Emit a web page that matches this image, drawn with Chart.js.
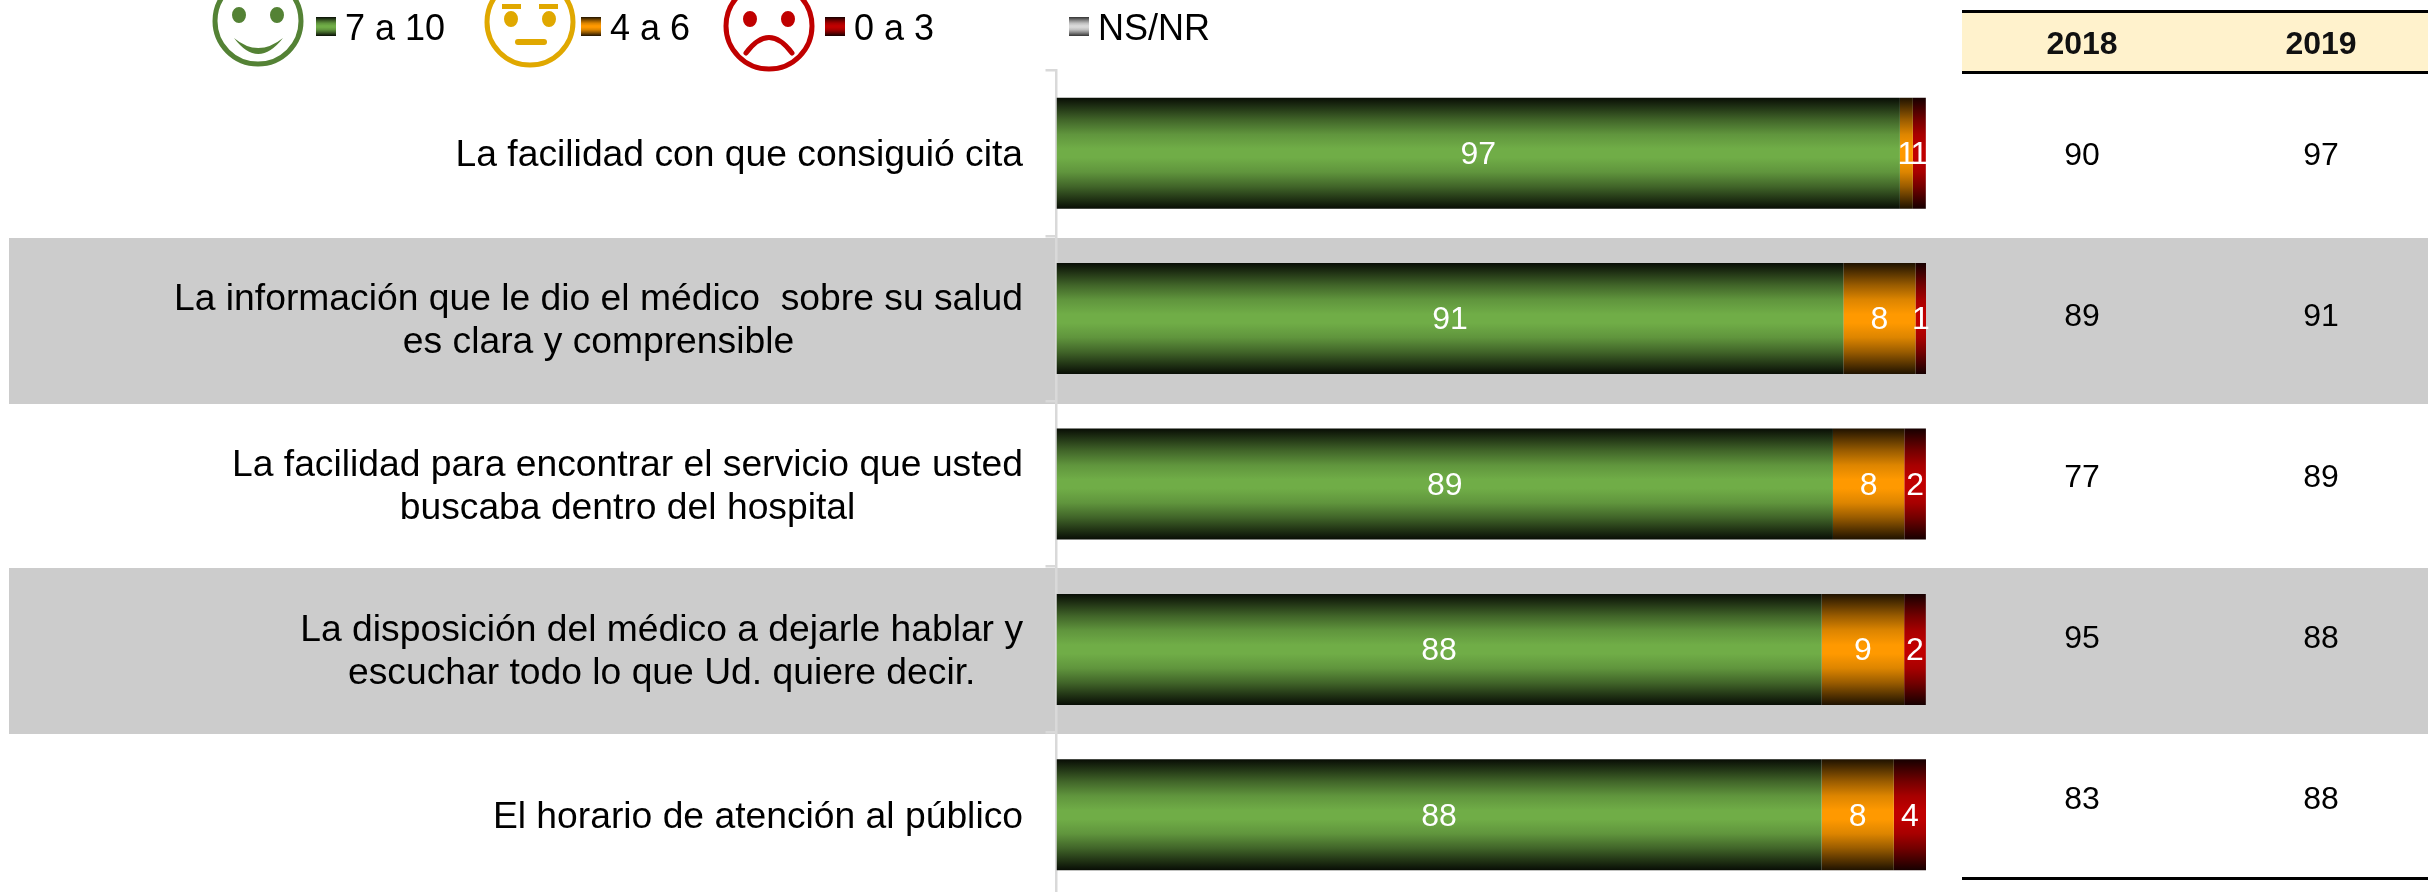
<!DOCTYPE html>
<html>
<head>
<meta charset="utf-8">
<script src="https://cdn.jsdelivr.net/npm/chart.js@4"></script>
<style>
  html, body { margin: 0; padding: 0; background: #fff; overflow: hidden; }
  #wrap { width: 2428px; height: 900px; }
</style>
</head>
<body>
<div id="wrap"><canvas id="chart"></canvas></div>
<script>
const categories = [
  ["La facilidad con que consiguió cita"],
  ["La información que le dio el médico  sobre su salud", "es clara y comprensible"],
  ["La facilidad para encontrar el servicio que usted", "buscaba dentro del hospital"],
  ["La disposición del médico a dejarle hablar y", "escuchar todo lo que Ud. quiere decir."],
  ["El horario de atención al público"],
];
const high = [97.0, 90.5, 89.3, 88.0, 88.0];
const mid = [1.49, 8.3, 8.2, 9.49, 8.3];
const low = [1.49, 1.2, 2.49, 2.49, 3.7];
const noAnswer = [0, 0, 0, 0, 0];
const years = ["2018", "2019"];
const score2018 = [90, 89, 77, 95, 83];
const score2019 = [97, 91, 89, 88, 88];

const FONT = '"Liberation Sans", Arial, sans-serif';

function mix(a, b, t) {
  const part = (s, i) => parseInt(s.slice(1 + i * 2, 3 + i * 2), 16);
  const rgb = [0, 1, 2].map((i) => Math.round(part(a, i) + (part(b, i) - part(a, i)) * t));
  return "rgb(" + rgb.join(",") + ")";
}

function fade(ctx, top, bottom, color, edge) {
  const g = ctx.createLinearGradient(0, top, 0, bottom);
  g.addColorStop(0, edge);
  g.addColorStop(0.2, mix(edge, color, 0.55));
  g.addColorStop(0.33, mix(edge, color, 0.85));
  g.addColorStop(0.46, color);
  g.addColorStop(0.54, color);
  g.addColorStop(0.67, mix(edge, color, 0.85));
  g.addColorStop(0.8, mix(edge, color, 0.55));
  g.addColorStop(1, edge);
  return g;
}

function barFill(color, edge) {
  return (c) => {
    const y = c.chart.scales.y;
    if (!y || c.dataIndex === undefined) return color;
    const center = y.getPixelForValue(c.dataIndex);
    if (!isFinite(center)) return color;
    return fade(c.chart.ctx, center - 55.5, center + 55.5, color, edge);
  };
}

const series = [
  { label: "7 a 10", data: high, color: "#70AD47", edge: "#080d05" },
  { label: "4 a 6", data: mid, color: "#FF9900", edge: "#1f1200" },
  { label: "0 a 3", data: low, color: "#C00000", edge: "#160000" },
  { label: "NS/NR", data: noAnswer, color: "#D9D9D9", edge: "#333333" },
];

function face(ctx, x, y, color, drawMouth) {
  ctx.save();
  ctx.strokeStyle = color;
  ctx.fillStyle = color;
  ctx.lineWidth = 5;
  ctx.lineCap = "round";
  ctx.beginPath();
  ctx.arc(x, y, 43, 0, Math.PI * 2);
  ctx.stroke();
  drawMouth();
  ctx.restore();
}

function eyes(ctx, x, y) {
  ctx.beginPath();
  ctx.ellipse(x - 19, y, 7, 8, 0, 0, Math.PI * 2);
  ctx.ellipse(x + 19, y, 7, 8, 0, 0, Math.PI * 2);
  ctx.fill();
}

const extras = {
  id: "extras",
  beforeDraw(chart) {
    const ctx = chart.ctx;
    ctx.save();
    // filas grises detras del grafico
    ctx.fillStyle = "#CCCCCC";
    ctx.fillRect(9, 238, 2419, 166);
    ctx.fillRect(9, 568, 2419, 166);
    ctx.restore();
  },
  afterDraw(chart) {
    const ctx = chart.ctx;
    const yScale = chart.scales.y;
    ctx.save();

    // etiquetas de categoria
    ctx.font = "37.25px " + FONT;
    ctx.fillStyle = "#000";
    ctx.textBaseline = "middle";
    ctx.textAlign = "center";
    categories.forEach((lines, i) => {
      const width = Math.max(...lines.map((l) => ctx.measureText(l).width));
      const cx = 1023 - width / 2;
      const cy = yScale.getPixelForValue(i) + 3;
      lines.forEach((l, n) => {
        ctx.fillText(l, cx, cy + (n - (lines.length - 1) / 2) * 43);
      });
    });

    // valores dentro de las barras
    ctx.font = "32px " + FONT;
    ctx.fillStyle = "#fff";
    chart.data.datasets.forEach((ds, d) => {
      chart.getDatasetMeta(d).data.forEach((bar, i) => {
        if (!ds.data[i]) return;
        const p = bar.getProps(["x", "y", "base"], true);
        ctx.fillText(String(Math.round(ds.data[i])), (p.x + p.base) / 2, p.y + 2);
      });
    });

    // tabla de la derecha
    ctx.fillStyle = "#FFF2CC";
    ctx.fillRect(1962, 12, 466, 59);
    ctx.fillStyle = "#000";
    ctx.fillRect(1962, 10, 466, 3);
    ctx.fillRect(1962, 71, 466, 3);
    ctx.fillRect(1962, 877, 466, 3);
    const colX = [2082, 2321];
    ctx.font = "bold 32px " + FONT;
    ctx.fillStyle = "#111";
    years.forEach((y, i) => ctx.fillText(y, colX[i], 45));
    ctx.font = "32px " + FONT;
    ctx.fillStyle = "#000";
    [score2018, score2019].forEach((col, c) => {
      col.forEach((v, i) => ctx.fillText(String(v), colX[c], 156 + i * 161));
    });

    // leyenda
    const swatchX = [316, 581, 825, 1069];
    ctx.font = "36px " + FONT;
    ctx.textAlign = "left";
    series.forEach((s, i) => {
      ctx.fillStyle = fade(ctx, 17, 36, s.color, s.edge);
      ctx.fillRect(swatchX[i], 17, 20, 19);
      ctx.fillStyle = "#000";
      ctx.fillText(s.label, swatchX[i] + 29, 30);
    });

    // caritas
    face(ctx, 258, 21, "#548235", () => {
      eyes(ctx, 258, 15);
      ctx.beginPath();
      ctx.moveTo(234, 38);
      ctx.quadraticCurveTo(258, 70, 283, 38);
      ctx.quadraticCurveTo(258, 58, 234, 38);
      ctx.fill();
    });
    face(ctx, 530, 22, "#E0A800", () => {
      eyes(ctx, 530, 19);
      ctx.fillRect(502, 4, 19, 5);
      ctx.fillRect(539, 4, 19, 5);
      ctx.lineWidth = 6;
      ctx.beginPath();
      ctx.moveTo(518, 42);
      ctx.lineTo(544, 42);
      ctx.stroke();
    });
    face(ctx, 769, 26, "#C00000", () => {
      eyes(ctx, 769, 19);
      ctx.lineWidth = 5;
      ctx.beginPath();
      ctx.moveTo(746, 53);
      ctx.quadraticCurveTo(769, 22, 792, 53);
      ctx.stroke();
    });

    ctx.restore();
  },
};

new Chart(document.getElementById("chart"), {
  type: "bar",
  data: {
    labels: categories,
    datasets: series.map((s) => ({
      label: s.label,
      data: s.data,
      backgroundColor: barFill(s.color, s.edge),
      borderWidth: 0,
      inflateAmount: 0,
      categoryPercentage: 1,
      barPercentage: 0.671,
    })),
  },
  options: {
    indexAxis: "y",
    responsive: true,
    maintainAspectRatio: false,
    animation: false,
    layout: { padding: { left: 0, right: 502, top: 70.5, bottom: 2.5 } },
    plugins: { legend: { display: false }, tooltip: { enabled: false } },
    scales: {
      x: { stacked: true, min: 0, max: 100, display: false },
      y: {
        stacked: true,
        afterFit: (s) => { s.width = 1056.5; },
        ticks: { display: false },
        border: { color: "#D9D9D9", width: 2.5 },
        grid: { color: "#D9D9D9", lineWidth: 2.5, drawOnChartArea: false, tickLength: 11 },
      },
    },
  },
  plugins: [extras],
});
</script>
</body>
</html>
